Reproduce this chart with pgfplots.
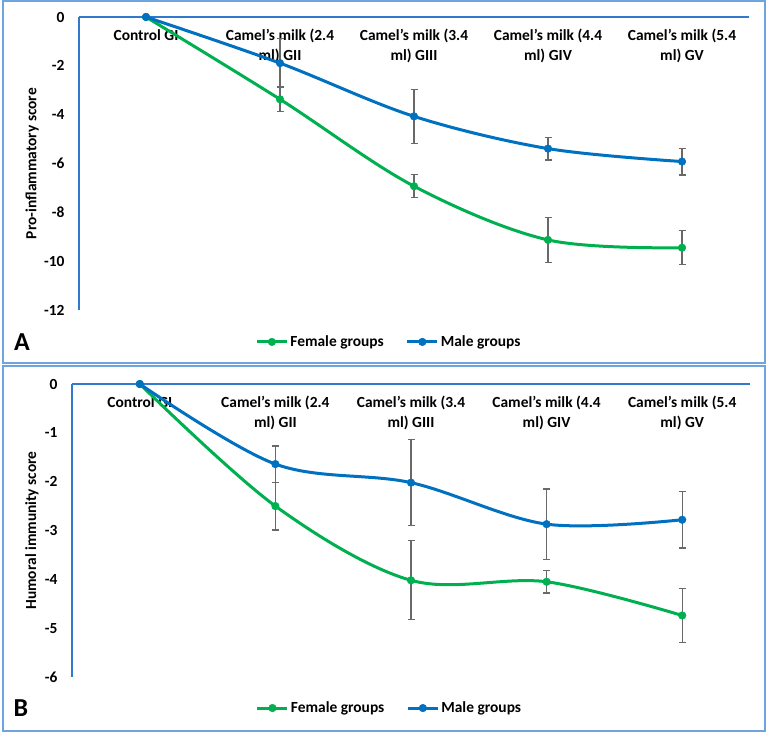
\documentclass[border=0pt]{standalone}
\usepackage{fontspec}
\setmainfont{Carlito}
\usepackage{pgfplots}
\pgfplotsset{compat=1.18}
\usepackage{pgfplotstable}

\definecolor{femgreen}{RGB}{0,176,80}
\definecolor{maleblue}{RGB}{0,112,192}
\definecolor{axisblue}{RGB}{50,120,205}
\definecolor{frameblue}{RGB}{110,165,225}
\definecolor{errgray}{RGB}{105,105,105}

% group index, mean score, error
\pgfplotstableread{
x y e
0 0 0
1 -3.37 0.50
2 -6.93 0.47
3 -9.13 0.93
4 -9.45 0.70
}\proFemale
\pgfplotstableread{
x y e
0 0 0
1 -1.89 1.00
2 -4.07 1.10
3 -5.39 0.47
4 -5.92 0.55
}\proMale
\pgfplotstableread{
x y e
0 0 0
1 -2.50 0.49
2 -4.02 0.81
3 -4.05 0.23
4 -4.74 0.55
}\humFemale
\pgfplotstableread{
x y e
0 0 0
1 -1.64 0.37
2 -2.02 0.88
3 -2.87 0.72
4 -2.78 0.58
}\humMale

\newcommand{\lblfont}{\bfseries\fontsize{15.5}{20}\selectfont}

\pgfplotsset{
  panel/.style={
    scale only axis, clip=false,
    xmin=-0.5, xmax=4.5,
    axis x line*=top, axis y line*=left,
    axis line style={-, draw=axisblue, line width=1.3bp},
    major tick length=0pt,
    xtick={0,...,4},
    xticklabels={Control GI, {Camel’s milk (2.4\\ml) GII}, {Camel’s milk (3.4\\ml) GIII},
                 {Camel’s milk (4.4\\ml) GIV}, {Camel’s milk (5.4\\ml) GV}},
    xticklabel style={align=center, anchor=north, yshift=-9bp, font=\lblfont},
    yticklabel style={font=\lblfont, xshift=-11bp},
    every axis y label/.style={rotate=90, anchor=center, font=\lblfont},
    legend columns=2,
    legend style={draw=none, fill=none, inner sep=0pt, font=\lblfont,
      /tikz/every even column/.append style={column sep=20bp}},
    legend image code/.code={
      \draw[mark repeat=2, mark phase=2] plot coordinates {(0bp,0bp) (15bp,0bp) (30bp,0bp)};},
  },
  series/.style={
    color=#1, line width=3bp, smooth, tension=0.55,
    mark=*, mark size=3.8bp, mark options={solid, fill=#1, draw=#1, line width=0.5bp},
    error bars/.cd, y dir=both, y explicit,
    error bar style={errgray, line width=1.2bp},
    error mark options={rotate=90, mark size=3.5bp, errgray, line width=1.2bp},
  },
}

\begin{document}
\begin{tikzpicture}
\useasboundingbox (0,0) rectangle (767bp,733bp);
% panel frames
\draw[frameblue, line width=2bp] (3bp,370bp) rectangle (765bp,732bp);
\draw[frameblue, line width=2bp] (3bp,2bp) rectangle (765bp,367bp);

% A: pro-inflammatory score
\begin{axis}[panel,
  at={(79bp,423bp)}, anchor=south west,
  width=670bp, height=293bp,
  ymin=-12, ymax=0, ytick={-12,-10,...,0},
  yticklabels={-12,-10,-8,-6,-4,-2,0},
  ylabel={Pro-inflammatory score},
  ylabel style={at={(axis description cs:-0.070,0.5)}},
  legend style={at={(axis description cs:0.263,-0.109)}, anchor=west},
]
\addplot[series=femgreen] table[x=x, y=y, y error=e] {\proFemale};
\addlegendentry{Female groups}
\addplot[series=maleblue] table[x=x, y=y, y error=e] {\proMale};
\addlegendentry{Male groups}
\end{axis}

% B: humoral immunity score
\begin{axis}[panel,
  at={(72bp,56bp)}, anchor=south west,
  width=678bp, height=293bp,
  ymin=-6, ymax=0, ytick={-6,-5,...,0},
  yticklabels={-6,-5,-4,-3,-2,-1,0},
  ylabel={Humoral immunity score},
  ylabel style={at={(axis description cs:-0.059,0.5)}},
  legend style={at={(axis description cs:0.271,-0.106)}, anchor=west},
]
\addplot[series=femgreen] table[x=x, y=y, y error=e] {\humFemale};
\addlegendentry{Female groups}
\addplot[series=maleblue] table[x=x, y=y, y error=e] {\humMale};
\addlegendentry{Male groups}
\end{axis}

\node[font=\bfseries\fontsize{26}{26}\selectfont] at (22bp,391bp) {A};
\node[font=\bfseries\fontsize{26}{26}\selectfont] at (21bp,25bp) {B};
\end{tikzpicture}
\end{document}
